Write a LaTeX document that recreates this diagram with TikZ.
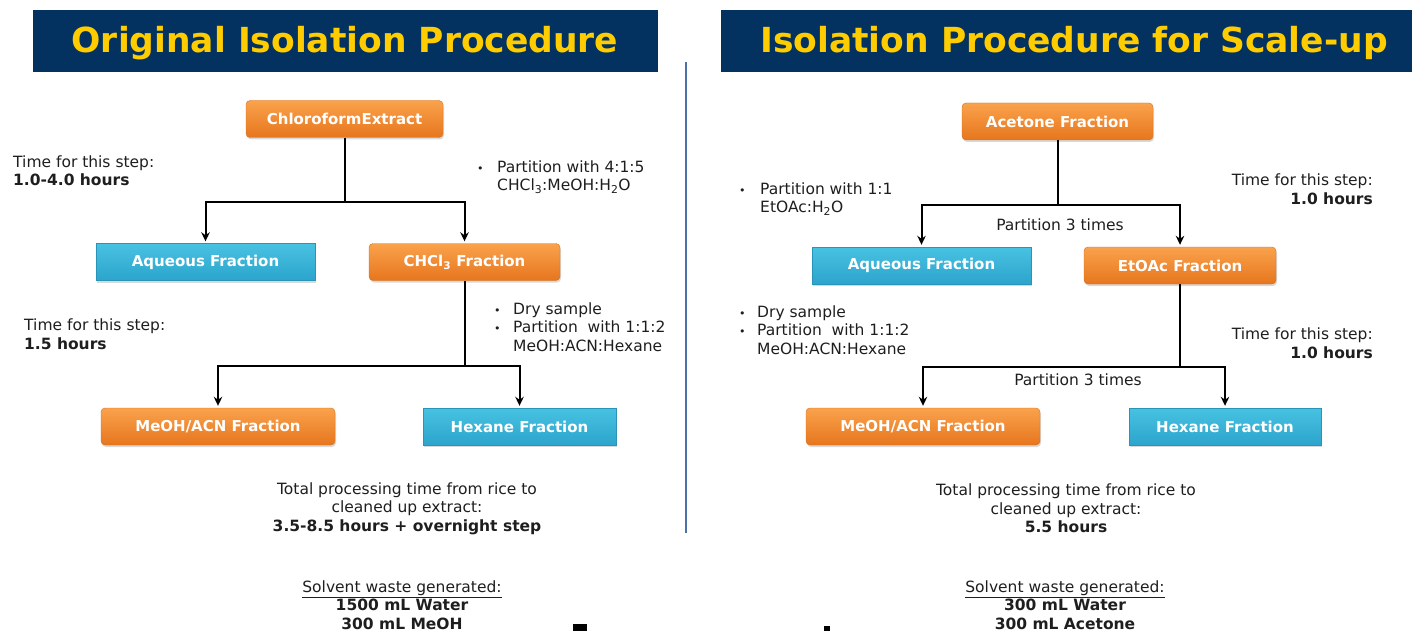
\documentclass[tikz,border=0pt]{standalone}
\usepackage{fontspec}
\setmainfont{DejaVu Sans}
\usetikzlibrary{shadows,arrows.meta}
\definecolor{navy}{RGB}{3,49,96}
\definecolor{titleyellow}{RGB}{255,204,0}
\definecolor{otop}{RGB}{250,162,76}
\definecolor{obot}{RGB}{230,118,30}
\definecolor{oedge}{RGB}{214,112,30}
\definecolor{btop}{RGB}{72,194,226}
\definecolor{bbot}{RGB}{44,164,204}
\definecolor{bedge}{RGB}{40,148,184}
\definecolor{divcol}{RGB}{74,114,168}
\definecolor{txtcol}{RGB}{30,30,30}
\begin{document}
\begin{tikzpicture}[x=1pt,y=-1pt]
\tikzset{
  box/.style={minimum height=37pt, inner sep=0pt, font=\bfseries\fontsize{15}{17}\selectfont, text=white,
    drop shadow={shadow xshift=1pt, shadow yshift=-2pt, opacity=0.3}},
  obox/.style={box, rounded corners=4pt, draw=oedge, top color=otop, bottom color=obot},
  bbox/.style={box, draw=bedge, top color=btop, bottom color=bbot},
  conn/.style={line width=2pt, black},
  arr/.style={conn, -{Stealth[length=9pt,width=8.5pt]}, shorten >=2pt},
  txt/.style={font=\fontsize{15.5}{18.5}\selectfont, text=txtcol, inner sep=0pt},
  banner/.style={fill=navy, minimum height=62pt, inner sep=0pt},
  ttl/.style={font=\bfseries\fontsize{34.5}{36}\selectfont, text=titleyellow, inner sep=0pt},
}
\newcommand{\bul}[1]{\makebox[#1][l]{\fontsize{11}{11}\selectfont\textbullet}}
\useasboundingbox (0,0) rectangle (1412,631);

% banners
\node[banner, minimum width=625pt] (b1) at (345.5,41) {};
\node[ttl] (t1) at (345,43) {Original Isolation Procedure};
\node[banner, minimum width=691pt] (b2) at (1066.5,41) {};
\node[ttl] (t2) at (1074,43) {Isolation Procedure for Scale-up};

% divider
\coordinate (d1) at (686,62);
\coordinate (d2) at (686,533);
\draw[divcol, line width=2pt] (d1) -- (d2);

% left boxes
\node[obox, minimum width=197pt] (ce) at (344.5,119) {ChloroformExtract};
\node[bbox, minimum width=219pt] (aq1) at (205.5,262) {Aqueous Fraction};
\node[obox, minimum width=191pt] (ch) at (464.5,262) {CHCl\textsubscript{3} Fraction};
\node[obox, minimum width=234pt] (ma1) at (218,426.5) {MeOH/ACN Fraction};
\node[bbox, minimum width=193pt] (hx1) at (519.5,426.5) {Hexane Fraction};

% right boxes
\node[obox, minimum width=191pt] (ac) at (1057.5,121.5) {Acetone Fraction};
\node[bbox, minimum width=219pt] (aq2) at (921.5,265.5) {Aqueous Fraction};
\node[obox, minimum width=192pt] (et) at (1180,265.5) {EtOAc Fraction};
\node[obox, minimum width=234pt] (ma2) at (923,426.5) {MeOH/ACN Fraction};
\node[bbox, minimum width=192pt] (hx2) at (1225,426.5) {Hexane Fraction};

% connectors
\coordinate (j1) at (344.5,202);
\draw[conn] (ce.south) -- (j1);
\draw[arr] (j1) -| (aq1.north);
\draw[arr] (j1) -| (ch.north);
\coordinate (j2) at (464.5,366);
\draw[conn] (ch.south) -- (j2);
\draw[arr] (j2) -| (ma1.north);
\draw[arr] (j2) -| (hx1.north);
\coordinate (j3) at (1057.5,205);
\draw[conn] (ac.south) -- (j3);
\draw[arr] (j3) -| (aq2.north);
\draw[arr] (j3) -| (et.north);
\coordinate (j4) at (1180,367);
\draw[conn] (et.south) -- (j4);
\draw[arr] (j4) -| (ma2.north);
\draw[arr] (j4) -| (hx2.north);

% left texts
\node[txt, anchor=west, align=left] (l1) at (13,170.5) {Time for this step:\\\textbf{1.0-4.0 hours}};
\node[txt, anchor=west, align=left] (l2) at (477,177) {\bul{20pt}Partition with 4:1:5\\\hspace*{20pt}CHCl\textsubscript{3}:MeOH:H\textsubscript{2}O};
\node[txt, anchor=west, align=left] (l3) at (494,327) {\bul{19pt}Dry sample\\\bul{19pt}Partition\ \ with 1:1:2\\\hspace*{19pt}MeOH:ACN:Hexane};
\node[txt, anchor=west, align=left] (l4) at (24,334) {Time for this step:\\\textbf{1.5 hours}};
\node[txt, align=center] (l5) at (407,508.5) {Total processing time from rice to\\cleaned up extract:\\\textbf{3.5-8.5 hours + overnight step}};
\node[txt, align=center] (l6) at (402,605) {\underline{Solvent waste generated:}\\\textbf{1500 mL Water}\\\textbf{300 mL MeOH}};

% right texts
\node[txt, anchor=west, align=left] (r1) at (739,199) {\bul{21pt}Partition with 1:1\\\hspace*{21pt}EtOAc:H\textsubscript{2}O};
\node[txt, anchor=east, align=right] (r2) at (1373,189) {Time for this step:\\\textbf{1.0 hours}};
\node[txt] (r3) at (1060,225) {Partition 3 times};
\node[txt, anchor=west, align=left] (r4) at (739,330) {\bul{18pt}Dry sample\\\bul{18pt}Partition\ \ with 1:1:2\\\hspace*{18pt}MeOH:ACN:Hexane};
\node[txt, anchor=east, align=right] (r5) at (1373,343) {Time for this step:\\\textbf{1.0 hours}};
\node[txt] (r6) at (1078,380) {Partition 3 times};
\node[txt, align=center] (r7) at (1066,508.5) {Total processing time from rice to\\cleaned up extract:\\\textbf{5.5 hours}};
\node[txt, align=center] (r8) at (1065,605) {\underline{Solvent waste generated:}\\\textbf{300 mL Water}\\\textbf{300 mL Acetone}};

% clipped fragments at bottom edge
\fill[black] (573,624) rectangle (587,631);
\fill[black] (824,626) rectangle (830,631);
\end{tikzpicture}
\end{document}
